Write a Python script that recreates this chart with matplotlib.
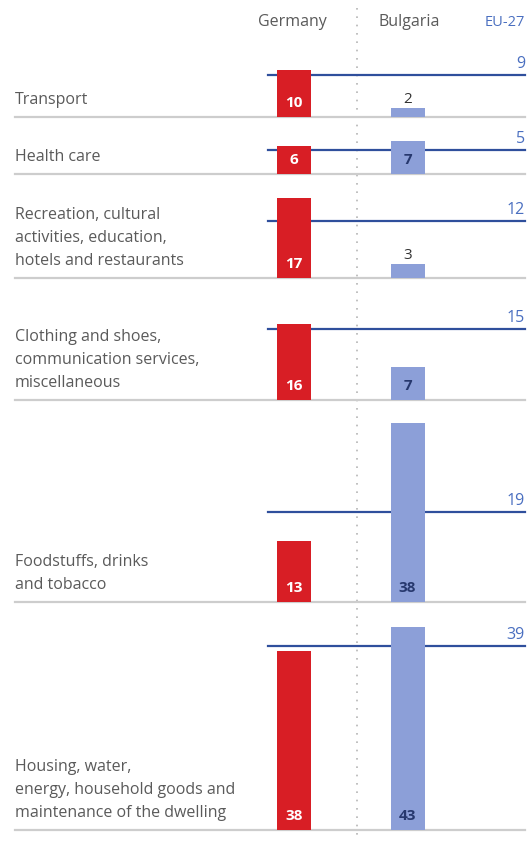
import matplotlib.pyplot as plt

plt.rcParams['font.family'] = ['Open Sans', 'DejaVu Sans']

# consumer spending shares, %
categories = [
    "Transport",
    "Health care",
    "Recreation, cultural\nactivities, education,\nhotels and restaurants",
    "Clothing and shoes,\ncommunication services,\nmiscellaneous",
    "Foodstuffs, drinks\nand tobacco",
    "Housing, water,\nenergy, household goods and\nmaintenance of the dwelling",
]
germany = [10, 6, 17, 16, 13, 38]
bulgaria = [2, 7, 3, 7, 38, 43]
eu27 = [9, 5, 12, 15, 19, 39]

# layout (pixel coords)
baselines = [117, 174, 278, 400, 602, 830]
SCALE = 4.72
X_DE, X_BG, BAR_W = 294, 407.5, 34
X_L, X_R = 15, 525

RED = "#d81e25"
LILAC = "#8c9fd8"
BLUE = "#2f4f9c"
EU_TXT = "#4a6fc0"
GREY = "#5a5a5a"

fig = plt.figure(figsize=(5.32, 8.41), dpi=100)
ax = fig.add_axes([0, 0, 1, 1])
ax.set_xlim(0, 532)
ax.set_ylim(841, 0)
ax.axis('off')

# header
ax.text(X_DE - 2, 22, "Germany", ha='center', va='center', fontsize=11.5, color=GREY)
ax.text(X_BG + 2, 22, "Bulgaria", ha='center', va='center', fontsize=11.5, color=GREY)
ax.text(X_R, 22, "EU-27", ha='right', va='center', fontsize=10.5, color=EU_TXT)

# dotted divider between the two countries
ax.plot([357, 357], [8, 838], color="#b5b5b5", lw=1.2, ls=(0, (1, 4)), zorder=1)

for cat, de, bg, eu, base in zip(categories, germany, bulgaria, eu27, baselines):
    # row separator
    ax.plot([X_L, X_R], [base, base], color="#cdcdcd", lw=1.6, zorder=1)
    # EU-27 reference line
    y_eu = base - eu * SCALE
    ax.plot([268, X_R], [y_eu, y_eu], color=BLUE, lw=1.6, zorder=2)
    ax.text(X_R, y_eu - 3, str(eu), ha='right', va='bottom', fontsize=11.5, color=EU_TXT)

    ax.bar(X_DE, de * SCALE, bottom=base - de * SCALE, width=BAR_W, color=RED, zorder=3)
    ax.bar(X_BG, bg * SCALE, bottom=base - bg * SCALE, width=BAR_W, color=LILAC, zorder=3)

    ax.text(X_DE, base - 14, str(de), ha='center', va='center', fontsize=11,
            color='white', fontweight='bold', zorder=4)
    if bg * SCALE > 20:
        ax.text(X_BG, base - 14, str(bg), ha='center', va='center', fontsize=11,
                color="#27386e", fontweight='bold', zorder=4)
    else:
        ax.text(X_BG, base - bg * SCALE - 1, str(bg), ha='center', va='bottom',
                fontsize=11, color="#333333", zorder=4)

    ax.text(X_L, base - 9, cat, ha='left', va='bottom', fontsize=11.5, color=GREY,
            linespacing=1.6)

fig.savefig("out.png", dpi=100)
